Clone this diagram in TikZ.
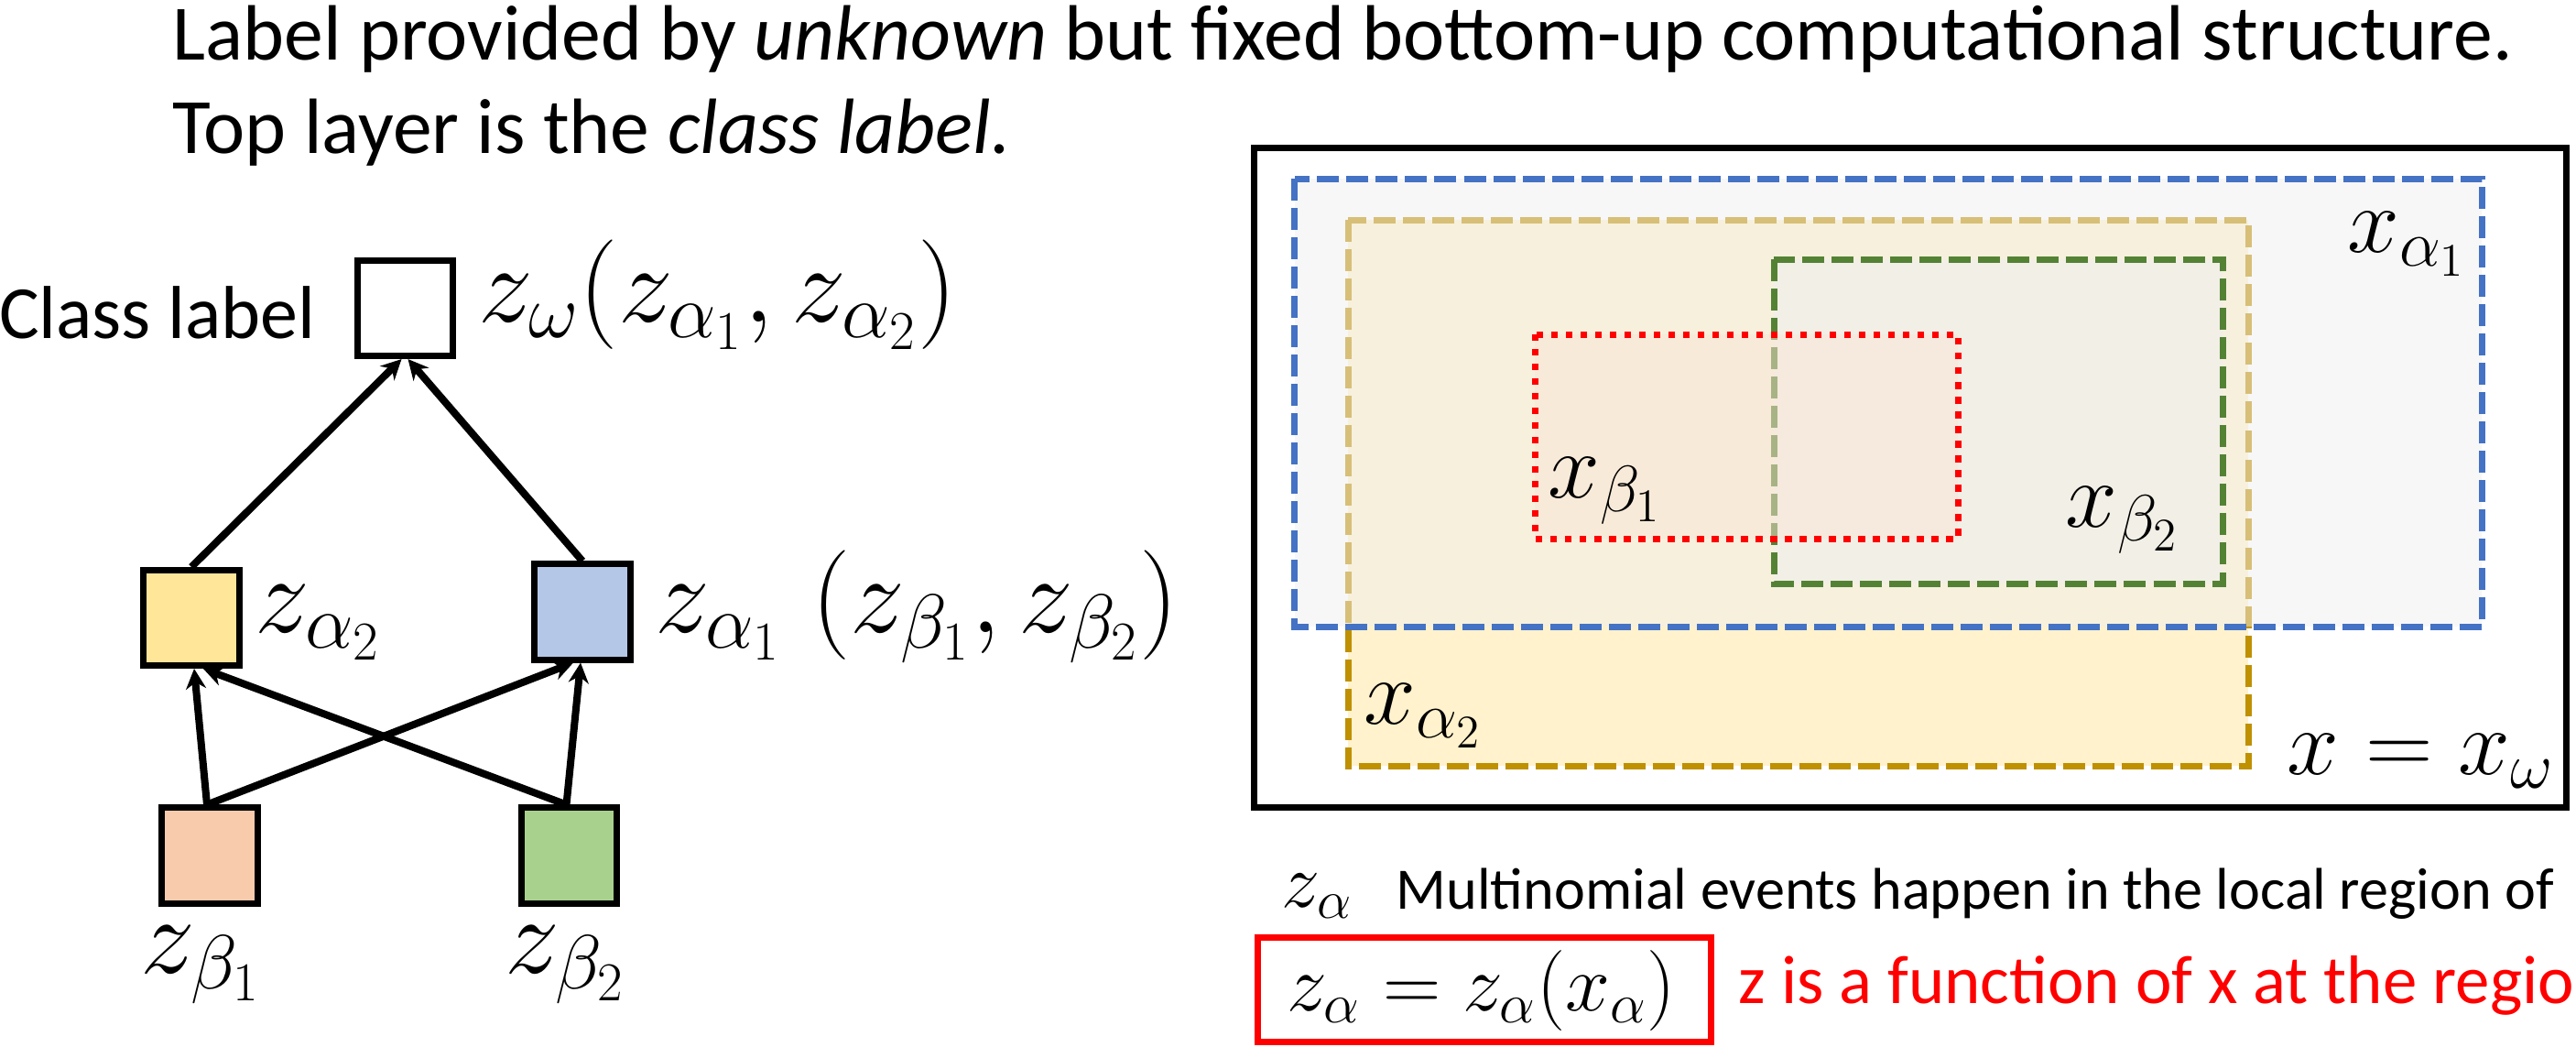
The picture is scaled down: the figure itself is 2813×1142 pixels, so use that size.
\documentclass[tikz,border=0pt]{standalone}
\usepackage{fix-cm}
\usepackage[no-math]{fontspec}
\setmainfont{Carlito}
\usetikzlibrary{arrows.meta}
\definecolor{cyel}{HTML}{FFE699}
\definecolor{cblu}{HTML}{B4C7E7}
\definecolor{cora}{HTML}{F8CBAD}
\definecolor{cgrn}{HTML}{A9D18E}
\definecolor{bluedash}{HTML}{4472C4}
\definecolor{tandash}{HTML}{BF9000}
\definecolor{tanfill}{HTML}{FFF2CC}
\definecolor{greendash}{HTML}{548235}
\definecolor{greyfill}{HTML}{EFEFEF}
\definecolor{redfill}{HTML}{FBE5D6}
\definecolor{myred}{HTML}{FF0000}
\begin{document}
\begin{tikzpicture}[x=0.01cm,y=-0.01cm,
  cbox/.style={draw=black, line width=0.07cm, minimum width=1.04cm, minimum height=1.04cm, inner sep=0pt},
  arr/.style={line width=0.08cm, -{Stealth[length=0.22cm,width=0.22cm]}},
  bigm/.style={inner sep=0pt, font=\fontsize{34}{40}\selectfont},
  midm/.style={inner sep=0pt, font=\fontsize{29}{35}\selectfont},
  title/.style={inner sep=0pt, font=\fontsize{24.35}{29}\selectfont},
  region/.style={line width=0.07cm, dash pattern=on 0.24cm off 0.08cm},
]
\useasboundingbox (0,0) rectangle (2813,1142);
\clip (0,0) rectangle (2813,1142);

% title
\node[title, anchor=base west] (t1) at (188,65) {Label provided by \textit{unknown} but fixed bottom-up computational structure.};
\node[title, anchor=base west] (t2) at (188,167) {Top layer is the \textit{class label.}};

% left graph
\node[cbox, fill=white] (cls) at (442.5,336.5) {};
\node[cbox, fill=cyel] (a2) at (209,674.5) {};
\node[cbox, fill=cblu] (a1) at (636,668) {};
\node[cbox, fill=cora] (b1) at (229,934) {};
\node[cbox, fill=cgrn] (b2) at (621.5,934) {};

\node[inner sep=0pt, font=\fontsize{23.3}{28}\selectfont, anchor=base east] (cl) at (345,369) {Class label};
\node[bigm, anchor=base west] (lw) at (522,351) {$z_\omega(z_{\alpha_1},z_{\alpha_2})$};
\node[bigm, anchor=base west] (la2) at (278,690) {$z_{\alpha_2}$};
\node[bigm, anchor=base west] (la1) at (715,690) {$z_{\alpha_1}\;(z_{\beta_1},z_{\beta_2})$};
\node[bigm, anchor=base west] (lb1) at (153,1062) {$z_{\beta_1}$};
\node[bigm, anchor=base west] (lb2) at (551,1062) {$z_{\beta_2}$};

\draw[arr] (a2.north) -- ([xshift=-0.04cm]cls.south);
\draw[arr] (a1.north) -- ([xshift=0.03cm]cls.south);
\draw[arr] ([xshift=-0.03cm]b1.north) -- ([xshift=0.03cm]a2.south);
\draw[arr] ([xshift=-0.03cm]b1.north) -- ([xshift=-0.1cm]a1.south);
\draw[arr] ([xshift=-0.03cm]b2.north) -- ([xshift=0.13cm]a2.south);
\draw[arr] ([xshift=-0.03cm]b2.north) -- ([xshift=-0.02cm]a1.south);

% right panel
\draw[line width=0.07cm] (1369,161) rectangle (2802,881);
\path[region, draw=tandash, fill=tanfill] (1472,240) rectangle (2455,836);
\path[region, draw=bluedash, fill=greyfill, fill opacity=0.5] (1413.5,195) rectangle (2710,684);
\path[region, draw=greendash, fill=greyfill, fill opacity=0.5] (1937,283) rectangle (2427,637);
\path[line width=0.07cm, dash pattern=on 0.073cm off 0.087cm, draw=myred, fill=redfill, fill opacity=0.5] (1676,365) rectangle (2138,588);

\node[midm, anchor=base west] (xa1) at (2563,275) {$x_{\alpha_1}$};
\node[midm, anchor=base west] (xb1) at (1690,543) {$x_{\beta_1}$};
\node[midm, anchor=base west] (xb2) at (2255,575) {$x_{\beta_2}$};
\node[midm, anchor=base west] (xa2) at (1489,790) {$x_{\alpha_2}$};
\node[midm, anchor=base east] (xw) at (2790,845) {$x=x_\omega$};

% bottom
\node[inner sep=0pt, anchor=base west, font=\fontsize{24}{29}\selectfont] (za) at (1399,990) {$z_\alpha$};
\node[inner sep=0pt, anchor=base west, font=\fontsize{18.25}{22}\selectfont] (mt) at (1524,992) {Multinomial events happen in the local region of};
\node[draw=myred, line width=0.07cm, minimum width=4.95cm, minimum height=1.13cm, inner sep=0pt] (fb) at (1621,1080.5) {};
\node[inner sep=0pt, anchor=base, font=\fontsize{25}{30}\selectfont] (fm) at (1617.5,1103) {$z_\alpha = z_\alpha(x_\alpha)$};
\node[inner sep=0pt, anchor=base west, text=myred, font=\fontsize{21.3}{26}\selectfont] (rt) at (1898,1095) {z is a function of x at the regio};
\end{tikzpicture}
\end{document}
